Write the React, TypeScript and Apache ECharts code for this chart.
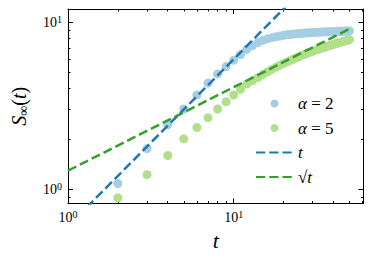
import React, { useEffect, useRef } from "react";
import * as echarts from "echarts";

const tValues = [2, 3, 4, 5, 6, 7, 8, 9, 10, 11, 12, 13, 14, 15, 16, 17, 18, 19, 20, 21, 22, 23, 24, 25, 26, 27, 28, 29, 30, 31, 32, 33, 34, 35, 36, 37, 38, 39, 40, 41, 42, 43, 44, 45, 46, 47, 48, 49, 50];
const alpha2 = [1.08, 1.75, 2.43, 3.02, 3.66, 4.32, 4.9, 5.42, 5.92, 6.4, 6.88, 7.25, 7.55, 7.78, 7.95, 8.08, 8.18, 8.27, 8.34, 8.4, 8.45, 8.49, 8.53, 8.56, 8.59, 8.62, 8.64, 8.66, 8.68, 8.7, 8.71, 8.72, 8.74, 8.75, 8.76, 8.77, 8.78, 8.79, 8.8, 8.81, 8.81, 8.82, 8.83, 8.84, 8.84, 8.85, 8.86, 8.86, 8.87];
const alpha5 = [0.887, 1.22, 1.59, 2.0, 2.34, 2.68, 3.02, 3.34, 3.66, 3.96, 4.27, 4.47, 4.67, 4.86, 5.04, 5.22, 5.38, 5.52, 5.66, 5.78, 5.9, 6.02, 6.13, 6.24, 6.35, 6.45, 6.54, 6.62, 6.7, 6.78, 6.86, 6.93, 7.0, 7.07, 7.13, 7.19, 7.25, 7.31, 7.37, 7.42, 7.47, 7.52, 7.57, 7.62, 7.67, 7.72, 7.77, 7.82, 7.87];
const guideT = [1, 50];
const guideLinear = [0.6, 30];
const guideSqrt = [1.29, 9.12];

const xRange = [1, 60.8];
const yRange = [0.82, 12];
const xMajorTicks = [1, 10];
const xMinorTicks = [2, 3, 4, 5, 6, 7, 8, 9, 20, 30, 40, 50, 60];
const yMajorTicks = [1, 10];
const yMinorTicks = [0.9, 2, 3, 4, 5, 6, 7, 8, 9];

const FONT = "Liberation Serif";
const BLACK = "#000";

const labelRich = {
  b: { fontSize: 14, fontFamily: FONT, color: BLACK, lineHeight: 16 },
  s: { fontSize: 10, fontFamily: FONT, color: BLACK, lineHeight: 8, verticalAlign: "top" },
};
const powFormatter = (v: number) => `{b|10}{s|${Math.round(Math.log10(v))}}`;

function makeAxis(
  range: number[],
  position: string,
  ticks: number[],
  tickLen: number,
  showLine: boolean,
  showLabel: boolean,
  extra: any = {}
) {
  return {
    type: "log",
    logBase: 10,
    min: range[0],
    max: range[1],
    position,
    axisLine: { show: showLine, onZero: false, lineStyle: { color: BLACK, width: 1 } },
    axisTick: {
      show: true,
      inside: true,
      length: tickLen,
      customValues: ticks,
      lineStyle: { color: BLACK, width: 1 },
    },
    axisLabel: showLabel
      ? { show: true, customValues: ticks, formatter: powFormatter, rich: labelRich, margin: 6, fontFamily: FONT }
      : { show: false },
    splitLine: { show: false },
    minorTick: { show: false },
    minorSplitLine: { show: false },
    ...extra,
  };
}

const legendLabels: Record<string, string> = {
  "α = 2": "{i|α}{n| = 2}",
  "α = 5": "{i|α}{n| = 5}",
  t: "{i|t}",
  "√t": "{n|√}{i|t}",
};

export default function App() {
  const ref = useRef<HTMLDivElement>(null);
  useEffect(() => {
    document.body.style.margin = "0";
    if (!ref.current) return;
    const chart = echarts.init(ref.current, undefined, { renderer: "svg" });
    const option: any = {
      animation: false,
      backgroundColor: "#fff",
      textStyle: { fontFamily: FONT },
      grid: { left: 68, right: 9.5, top: 9, bottom: 59.5, containLabel: false, outerBoundsMode: "none" },
      xAxis: [
        makeAxis(xRange, "bottom", xMajorTicks, 5, true, true, {
          name: "t",
          nameLocation: "middle",
          nameGap: 25,
          nameTextStyle: { fontFamily: FONT, fontSize: 22, fontStyle: "italic", color: BLACK },
        }),
        makeAxis(xRange, "bottom", xMinorTicks, 2.5, false, false),
        makeAxis(xRange, "top", xMajorTicks, 5, true, false),
        makeAxis(xRange, "top", xMinorTicks, 2.5, false, false),
      ],
      yAxis: [
        makeAxis(yRange, "left", yMajorTicks, 5, true, true, {
          name: "{i|S}{sub|∞}{n|(}{i|t}{n|)}",
          nameLocation: "middle",
          nameGap: 38,
          nameRotate: 90,
          nameTextStyle: {
            fontFamily: FONT,
            fontSize: 20,
            color: BLACK,
            rich: {
              i: { fontFamily: FONT, fontSize: 20, fontStyle: "italic", color: BLACK, lineHeight: 22 },
              n: { fontFamily: FONT, fontSize: 20, color: BLACK, lineHeight: 22 },
              sub: { fontFamily: FONT, fontSize: 14, color: BLACK, lineHeight: 14, verticalAlign: "bottom" },
            },
          },
        }),
        makeAxis(yRange, "left", yMinorTicks, 2.5, false, false),
        makeAxis(yRange, "right", yMajorTicks, 5, true, false),
        makeAxis(yRange, "right", yMinorTicks, 2.5, false, false),
      ],
      legend: {
        orient: "vertical",
        left: 250,
        top: 90,
        itemWidth: 37,
        itemHeight: 8,
        itemGap: 7.5,
        itemTextGap: 15,
        data: [
          { name: "α = 2", icon: "circle" },
          { name: "α = 5", icon: "circle" },
          { name: "t", itemStyle: { opacity: 0 } },
          { name: "√t", itemStyle: { opacity: 0 } },
        ],
        formatter: (name: string) => legendLabels[name] ?? name,
        textStyle: {
          fontFamily: FONT,
          fontSize: 17,
          color: BLACK,
          rich: {
            i: { fontFamily: FONT, fontSize: 17, fontStyle: "italic", color: BLACK, lineHeight: 17 },
            n: { fontFamily: FONT, fontSize: 17, color: BLACK, lineHeight: 17 },
          },
        },
      },
      series: [
        {
          name: "α = 2",
          type: "scatter",
          xAxisIndex: 0,
          yAxisIndex: 0,
          symbolSize: 9,
          itemStyle: { color: "#a6cee3", opacity: 1 },
          data: tValues.map((t, i) => [t, alpha2[i]]),
        },
        {
          name: "α = 5",
          type: "scatter",
          xAxisIndex: 0,
          yAxisIndex: 0,
          symbolSize: 9,
          itemStyle: { color: "#b2df8a", opacity: 1 },
          data: tValues.map((t, i) => [t, alpha5[i]]),
        },
        {
          name: "t",
          type: "line",
          xAxisIndex: 0,
          yAxisIndex: 0,
          symbol: "none",
          clip: true,
          itemStyle: { color: "#1f78b4" },
          lineStyle: { color: "#1f78b4", width: 2.5, type: [9.25, 4] },
          data: guideT.map((t, i) => [t, guideLinear[i]]),
        },
        {
          name: "√t",
          type: "line",
          xAxisIndex: 0,
          yAxisIndex: 0,
          symbol: "none",
          clip: true,
          itemStyle: { color: "#33a02c" },
          lineStyle: { color: "#33a02c", width: 2.5, type: [9.25, 4] },
          data: guideT.map((t, i) => [t, guideSqrt[i]]),
        },
      ],
    };
    chart.setOption(option);
    return () => chart.dispose();
  }, []);
  return (
    <div
      ref={ref}
      style={{ position: "absolute", left: 0, top: 0, width: 373, height: 263, background: "#fff" }}
    />
  );
}
